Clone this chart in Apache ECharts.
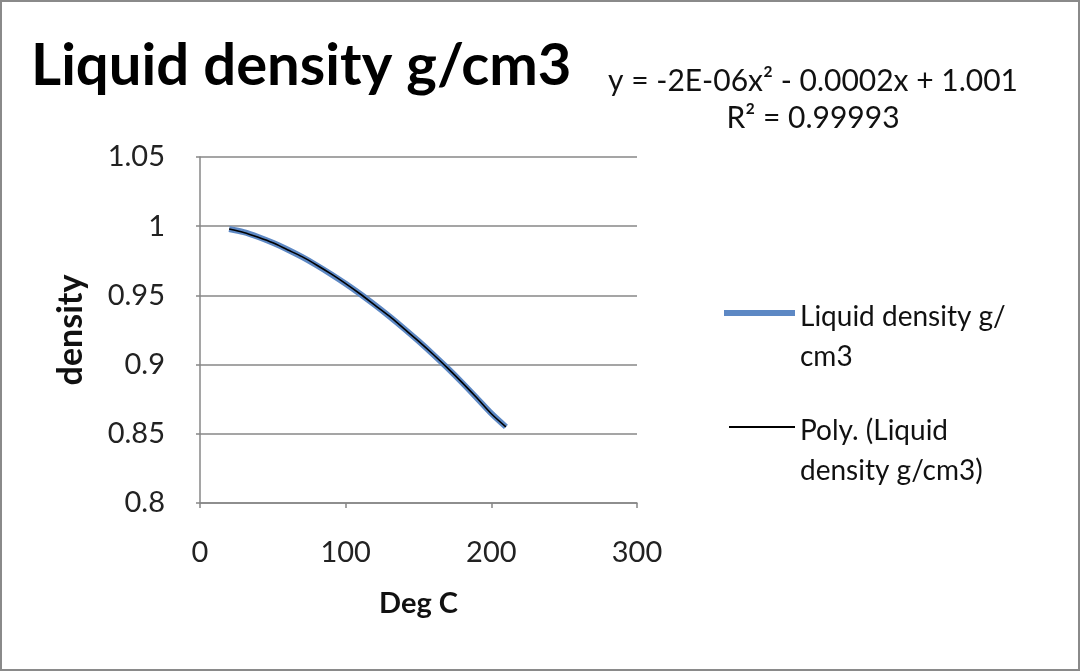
<!DOCTYPE html>
<html>
<head>
<meta charset="utf-8">
<script src="https://cdn.jsdelivr.net/npm/echarts@6/dist/echarts.min.js"></script>
<style>
html,body{margin:0;padding:0;background:#fff;}
#chart{width:1081px;height:672px;}
</style>
</head>
<body>
<div id="chart"></div>
<script>
// Temperature (deg C)
var temps = [20, 30, 40, 50, 60, 70, 80, 90, 100, 110, 120, 130, 140, 150, 160, 170, 180, 190, 200, 210];
// Liquid density g/cm3
var density = [0.998, 0.9957, 0.9922, 0.988, 0.9832, 0.9778, 0.9718, 0.9653, 0.9584, 0.951, 0.9431, 0.9348, 0.9261, 0.917, 0.9074, 0.8974, 0.8869, 0.8759, 0.8647, 0.855];
// Polynomial trend line
var trend = [0.998, 0.9955, 0.992, 0.988, 0.983, 0.978, 0.972, 0.9655, 0.9585, 0.951, 0.943, 0.935, 0.926, 0.917, 0.9075, 0.8975, 0.887, 0.876, 0.8645, 0.855];
var xTicks = [0, 100, 200, 300];
var yTicks = [0.8, 0.85, 0.9, 0.95, 1, 1.05];

var seriesName = 'Liquid density g/cm3';
var trendName = 'Poly. (Liquid density g/cm3)';
var equationText = 'y = -2E-06x\u00B2 - 0.0002x + 1.001\nR\u00B2 = 0.99993';

function pairs(xs, ys) { return xs.map(function (x, i) { return [x, ys[i]]; }); }

var FONT = 'Lato, "Open Sans", sans-serif';
var GRID_COLOR = '#878787';

var chart = echarts.init(document.getElementById('chart'));
chart.setOption({
  animation: false,
  backgroundColor: '#fff',
  textStyle: { fontFamily: FONT },
  title: [
    { text: seriesName, left: 31, top: 37, padding: 0,
      textStyle: { fontFamily: FONT, fontSize: 58, fontWeight: 'bold', color: '#000' } },
    { text: equationText, left: 813, top: 63, textAlign: 'center', padding: 0,
      textStyle: { fontFamily: FONT, fontSize: 30, fontWeight: 'normal', color: '#111', lineHeight: 37 } }
  ],
  graphic: [
    { type: 'rect', shape: { x: 1, y: 1, width: 1078, height: 669 }, silent: true,
      style: { fill: 'none', stroke: '#8a8a8a', lineWidth: 2 } }
  ],
  legend: [
    { data: [seriesName], left: 724, top: 297, padding: 0,
      icon: 'path://M0,0 M71,80 M0,13 L71,13 L71,19 L0,19 Z', itemWidth: 71, itemHeight: 80,
      formatter: function () { return 'Liquid density g/\ncm3'; },
      textStyle: { fontFamily: FONT, fontSize: 28, lineHeight: 40, color: '#111' } },
    { data: [trendName], left: 729, top: 411, padding: 0,
      icon: 'path://M0,0 M66,80 M0,15 L66,15 L66,17 L0,17 Z', itemWidth: 66, itemHeight: 80,
      formatter: function () { return 'Poly. (Liquid\ndensity g/cm3)'; },
      textStyle: { fontFamily: FONT, fontSize: 28, lineHeight: 40, color: '#111' } }
  ],
  grid: { left: 200, right: 444, top: 157, bottom: 169, containLabel: false },
  xAxis: {
    type: 'value', min: xTicks[0], max: xTicks[xTicks.length - 1], interval: 100,
    name: 'Deg C', nameLocation: 'middle', nameGap: 86,
    nameTextStyle: { fontFamily: FONT, fontSize: 29, fontWeight: 'bold', color: '#111' },
    axisLine: { show: true, lineStyle: { color: GRID_COLOR, width: 1.5 } },
    axisTick: { show: true, inside: false, length: 5, lineStyle: { color: GRID_COLOR, width: 1.5 } },
    axisLabel: { fontFamily: FONT, fontSize: 29, color: '#222', margin: 35 },
    splitLine: { show: false }
  },
  yAxis: {
    type: 'value', min: yTicks[0], max: yTicks[yTicks.length - 1], interval: 0.05,
    name: 'density', nameLocation: 'middle', nameGap: 112, nameRotate: 90,
    nameTextStyle: { fontFamily: FONT, fontSize: 34, fontWeight: 'bold', color: '#111' },
    axisLine: { show: true, lineStyle: { color: GRID_COLOR, width: 1.5 } },
    axisTick: { show: true, inside: false, length: 4, lineStyle: { color: GRID_COLOR, width: 1.5 } },
    axisLabel: { fontFamily: FONT, fontSize: 29, color: '#222', margin: 35,
      formatter: function (v) { return String(Math.round(v * 100) / 100); } },
    splitLine: { show: true, lineStyle: { color: GRID_COLOR, width: 1.5 } }
  },
  series: [
    { name: seriesName, type: 'line', data: pairs(temps, density), showSymbol: false, smooth: 0.3,
      lineStyle: { color: '#5d88c4', width: 6 }, itemStyle: { color: '#5d88c4' } },
    { name: trendName, type: 'line', data: pairs(temps, trend), showSymbol: false, smooth: 0.3,
      lineStyle: { color: '#000', width: 1.6 }, itemStyle: { color: '#000' } }
  ]
});
</script>
</body>
</html>
